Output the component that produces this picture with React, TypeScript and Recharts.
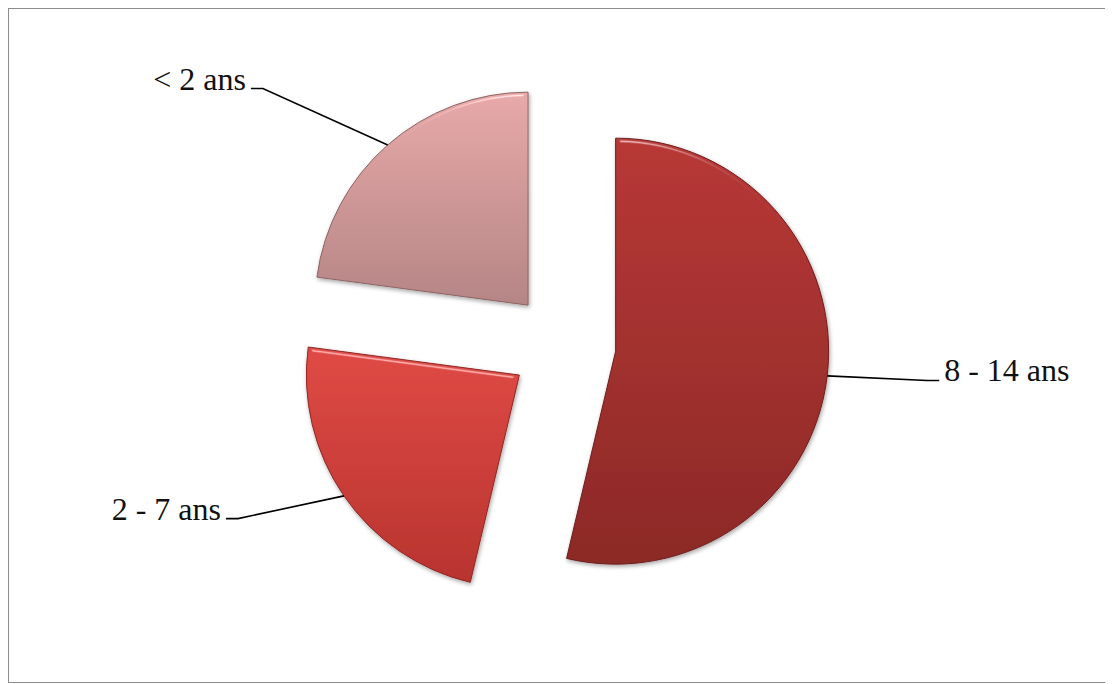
import { PieChart, Pie, Cell } from 'recharts'

const AGE_GROUPS = ['8 - 14 ans', '2 - 7 ans', '< 2 ans']
const SHARES = [53.7, 23.4, 22.9]

const SLICE_COLORS = [
  { top: '#b83836', bottom: '#8c2927', edge: '#6e1f1d' },
  { top: '#e04a45', bottom: '#b8342f', edge: '#8f2622' },
  { top: '#e8a9a9', bottom: '#b58585', edge: '#8d6464' }
]

const chartData = AGE_GROUPS.map((name, i) => ({ name, value: SHARES[i] }))

const WIDTH = 1103
const HEIGHT = 673
const CX = 554
const CY = 336
const RADIUS = 213
const EXPLODE = 53
const RAD = Math.PI / 180

// angle of each slice middle, clockwise from 12 o'clock
const total = SHARES.reduce((a, b) => a + b, 0)
const midAngles = SHARES.map((v, i) => {
  const before = SHARES.slice(0, i).reduce((a, b) => a + b, 0)
  return ((before + v / 2) / total) * 360
})

const renderLabel = (only: number) => (props: any) => {
  const { cx, cy, midAngle, outerRadius, index, name } = props
  if (index !== only) return null
  const dx = Math.cos(-midAngle * RAD)
  const dy = Math.sin(-midAngle * RAD)
  const px = cx + outerRadius * dx
  const py = cy + outerRadius * dy
  const side = dx >= 0 ? 1 : -1
  const run = 112 + (side < 0 ? 6 : 0) + 25 * Math.max(0, -dy)
  const ex = px + side * (run - 12)
  const ey = py + dy * (dy < 0 ? 75 : 40)
  const tx = ex + side * 12
  return (
    <g>
      <polyline
        points={`${px},${py} ${ex},${ey} ${tx},${ey}`}
        fill="none"
        stroke="#000"
        strokeWidth={1.6}
      />
      <text
        x={tx + side * 5}
        y={ey + 1}
        textAnchor={side > 0 ? 'start' : 'end'}
        fontFamily="'Liberation Serif', serif"
        fontSize={32}
        fill="#111"
      >
        {name}
      </text>
    </g>
  )
}

export default function App() {
  return (
    <div
      style={{
        width: WIDTH,
        height: HEIGHT,
        border: '1px solid #8c8c8c',
        background: '#fff'
      }}
    >
      <PieChart width={WIDTH} height={HEIGHT} margin={{ top: 0, right: 0, bottom: 0, left: 0 }}>
        <defs>
          {SLICE_COLORS.map((c, i) => (
            <linearGradient key={i} id={`slice-${i}`} x1="0" y1="0" x2="0" y2="1">
              <stop offset="0%" stopColor={c.top} />
              <stop offset="100%" stopColor={c.bottom} />
            </linearGradient>
          ))}
          {/* soft rim light on the upper edges, then a small drop shadow */}
          <filter id="bevel" x="-10%" y="-10%" width="120%" height="120%">
            <feGaussianBlur in="SourceAlpha" stdDeviation="2.5" result="blur" />
            <feSpecularLighting
              in="blur"
              surfaceScale="5"
              specularConstant="0.8"
              specularExponent="60"
              lightingColor="#ffffff"
              result="spec"
            >
              <feDistantLight azimuth="270" elevation="25" />
            </feSpecularLighting>
            <feComposite in="spec" in2="SourceAlpha" operator="in" result="specIn" />
            <feComposite
              in="SourceGraphic"
              in2="specIn"
              operator="arithmetic"
              k1="0"
              k2="1"
              k3="0.5"
              k4="0"
              result="lit"
            />
            <feDropShadow in="lit" dx="1" dy="2" stdDeviation="2" floodColor="#000" floodOpacity="0.35" />
          </filter>
        </defs>
        {AGE_GROUPS.map((_, k) => (
          <Pie
            key={k}
            data={chartData}
            dataKey="value"
            nameKey="name"
            cx={CX + EXPLODE * Math.sin(midAngles[k] * RAD)}
            cy={CY - EXPLODE * Math.cos(midAngles[k] * RAD)}
            outerRadius={RADIUS}
            startAngle={90}
            endAngle={-270}
            labelLine={false}
            label={renderLabel(k)}
            isAnimationActive={false}
          >
            {chartData.map((entry, i) => (
              <Cell
                key={`cell-${k}-${i}`}
                fill={i === k ? `url(#slice-${i})` : 'none'}
                stroke={i === k ? SLICE_COLORS[i].edge : 'none'}
                strokeWidth={i === k ? 1 : 0}
                filter={i === k ? 'url(#bevel)' : undefined}
              />
            ))}
          </Pie>
        ))}
      </PieChart>
    </div>
  )
}
